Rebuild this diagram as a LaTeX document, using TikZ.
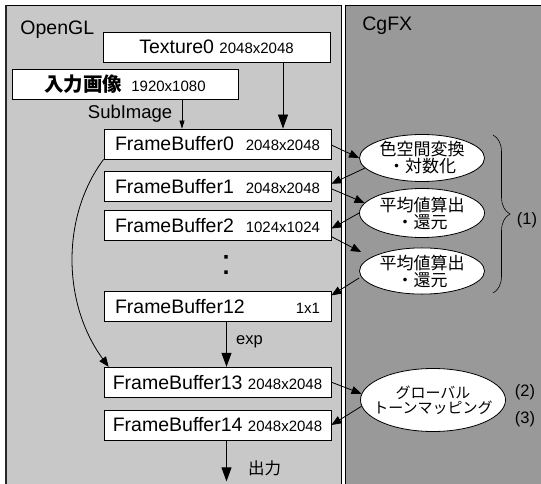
\documentclass[tikz,border=0pt]{standalone}
\usepackage{fontspec}
\setmainfont{Liberation Sans}
\newfontfamily\jp{Noto Sans CJK JP}
\usetikzlibrary{positioning,shapes.geometric,arrows.meta,decorations.pathreplacing}
\definecolor{glgray}{RGB}{200,200,200}
\definecolor{cggray}{RGB}{153,153,153}
\newcommand\dimtxt[1]{{\fontsize{15}{15}\selectfont #1}}
\newcommand\fbrow[2]{\makebox[205pt]{#1\hfill\dimtxt{#2}}}

\begin{document}
\begin{tikzpicture}[x=1pt,y=1pt,line width=0.8pt,
   font=\fontsize{19.5}{20}\selectfont,
   buf/.style={draw,fill=white,minimum width=227pt,minimum height=30pt,inner sep=0pt},
   proc/.style={ellipse,draw,fill=white,inner sep=0pt,align=center,
                font=\jp\fontsize{17}{17}\selectfont},
   note/.style={font=\fontsize{16.5}{17}\selectfont},
   flow/.style={-{Triangle[length=14pt,width=10pt]}},
   feed/.style={-{Triangle[length=10pt,width=8pt]}},
   subflow/.style={-{Triangle[length=8pt,width=5pt]}}]
   \useasboundingbox (0,0) rectangle (541,-484);
   \clip (0,0) rectangle (541,-484);
   % panels
   \fill[glgray] (6,-5) rectangle (341,-484);
   \draw (6,-490) -- (6,-5) -- (341,-5) -- (341,-490);
   \draw[line width=1.6pt,black!85] (6,-490) -- (6,-5);
   \fill[cggray] (345,-5) rectangle (545,-484);
   \draw (345,-490) -- (345,-5) -- (545,-5);
   \node[anchor=base west,inner sep=0pt] (gl) at (20,-35) {OpenGL};
   \node[anchor=base west,inner sep=0pt] (cg) at (362,-31) {CgFX};

   % buffers
   \node[buf] (tex) at (216.5,-47) {Texture0 \dimtxt{2048x2048}};
   \node[buf,minimum width=226pt] (img) at (125,-84)
        {{\jp\bfseries 入力画像}\hspace{9pt}\dimtxt{1920x1080}};
   \node[buf] (fb0) at (217.5,-144) {\fbrow{FrameBuffer0}{2048x2048}};
   \node[buf] (fb1) [below=12pt of fb0] {\fbrow{FrameBuffer1}{2048x2048}};
   \node[buf] (fb2) [below=8pt of fb1] {\fbrow{FrameBuffer2}{1024x1024}};
   \node (dots) at (226,-264.5) {\fontsize{36}{36}\selectfont :};
   \node[buf] (fb12) [below=50pt of fb2] {\fbrow{FrameBuffer12}{1x1}};
   \node[buf] (fb13) [below=45pt of fb12] {FrameBuffer13 \dimtxt{2048x2048}};
   \node[buf] (fb14) [below=12pt of fb13] {FrameBuffer14 \dimtxt{2048x2048}};
   \coordinate (out) at ([xshift=9pt,yshift=-41pt]fb14.south);

   % shaders
   \node[proc,minimum width=125pt,minimum height=47pt] (e1) at (422,-158) {色空間変換\\・対数化};
   \node[proc,minimum width=125pt,minimum height=49pt] (e2) at (422,-213) {平均値算出\\・還元};
   \node[proc,minimum width=125pt,minimum height=46pt] (e3) at (422,-271) {平均値算出\\・還元};
   \node[proc,minimum width=145pt,minimum height=63pt,inner xsep=-9pt,
         font=\jp\fontsize{15}{15}\selectfont]
        (e4) at (433,-400) {グローバル\\トーンマッピング};

   \path[subflow] ([xshift=57pt]img.south) edge node[left=6pt,font=\fontsize{18.5}{19}\selectfont] {SubImage}
        ([xshift=57pt]img.south |- fb0.north);
   \draw[flow] ([xshift=66.5pt]tex.south) -- ([xshift=66.5pt]tex.south |- fb0.north);
   \draw[feed] ([yshift=-1pt]fb0.east) -- (e1.180);
   \draw[feed] (e1.190) -- ([yshift=3pt]fb1.east);
   \draw[feed] ([yshift=-2pt]fb1.east) -- (e2.170);
   \draw[feed] (e2.west) -- ([yshift=-3pt]fb2.east);
   \draw[feed] ([yshift=-11pt]fb2.east) -- ([shift={(2pt,19pt)}]e3.west);
   \draw[feed] ([yshift=-7pt]e3.west) -- ([yshift=11pt]fb12.east);
   \draw[feed] (fb0.south west) .. controls +(-42,-56) and +(-47,64) .. ([xshift=5pt]fb13.north west);
   \draw[flow] ([xshift=9pt]fb12.south) -- ([xshift=9pt]fb12.south |- fb13.north)
        node[midway,right=6pt,yshift=3pt,note] {exp};
   \draw[feed] (fb13.east) -- (e4.175);
   \draw[feed] (e4.185) -- (fb14.east);
   \draw[flow] ([xshift=9pt]fb14.south) -- (out)
        node[midway,right=18pt,yshift=-7pt,note,font=\jp\fontsize{16.5}{17}\selectfont] {出力};

   % brace and step numbers
   \draw[decorate,decoration={brace,amplitude=17pt},line width=0.6pt] (493,-135) -- (493,-293);
   \node[note] (n1) at (527,-220) {(1)};
   \node[note] (n2) at (525,-392) {(2)};
   \node[note] (n3) at (525,-419) {(3)};
\end{tikzpicture}
\end{document}
